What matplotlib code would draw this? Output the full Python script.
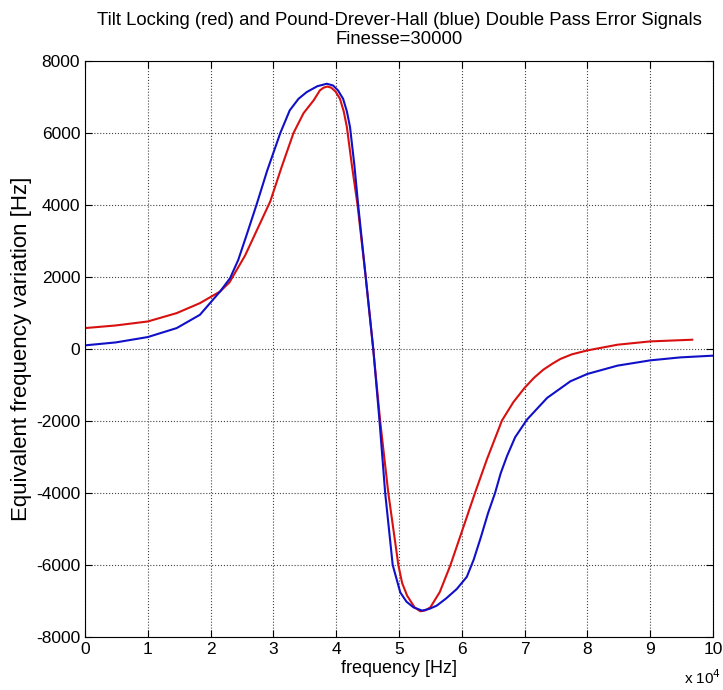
import matplotlib.pyplot as plt

plt.rcParams['font.family'] = ['Liberation Sans', 'DejaVu Sans']
plt.rcParams['axes.unicode_minus'] = False

# frequency in units of 1e4 Hz, error signal in Hz
red_x = [0, 0.49, 1.0, 1.46, 1.83, 2.15, 2.3, 2.55, 2.75, 2.95, 3.13, 3.32,
         3.48, 3.64, 3.74, 3.80, 3.86, 3.92, 3.99, 4.06, 4.12, 4.17, 4.25, 4.34,
         4.47, 4.59, 4.70, 4.83, 4.99, 5.05, 5.13, 5.25, 5.34, 5.42, 5.50, 5.65,
         5.82, 5.98, 6.21, 6.40, 6.64, 6.82, 7.0, 7.15, 7.30, 7.45, 7.57, 7.75,
         8.0, 8.48, 9.0, 9.67]
red_y = [581, 654, 765, 997, 1274, 1596, 1850, 2600, 3350, 4100, 5050, 6000,
         6550, 6906, 7183, 7260, 7290, 7260, 7150, 6950, 6600, 6166, 5100, 4000,
         2000, 0, -2000, -4000, -6000, -6500, -6853, -7180, -7285, -7260, -7175,
         -6750, -6000, -5180, -4000, -3066, -1986, -1480, -1080, -800, -573,
         -400, -277, -150, -39, 119, 211, 258]

blue_x = [0, 0.49, 1.0, 1.46, 1.83, 2.15, 2.31, 2.44, 2.57, 2.73, 2.9, 3.0,
          3.11, 3.26, 3.40, 3.53, 3.70, 3.85, 3.95, 4.03, 4.11, 4.17, 4.22,
          4.29, 4.35, 4.47, 4.59, 4.69, 4.78, 4.90, 5.02, 5.12, 5.23, 5.37, 5.48,
          5.60, 5.75, 5.92, 6.08, 6.19, 6.30, 6.42, 6.53, 6.62, 6.72, 6.85, 7.04,
          7.36, 7.73, 8.0, 8.48, 9.0, 9.48, 10.0]
blue_y = [101, 183, 332, 581, 950, 1596, 1967, 2474, 3150, 4000, 4950, 5450,
          6000, 6629, 6950, 7136, 7300, 7368, 7320, 7180, 6950, 6600, 6166,
          5100, 4000, 2000, 0, -2000, -4000, -6000, -6759, -7020, -7175, -7268,
          -7220, -7130, -6930, -6667, -6330, -5850, -5250, -4550, -4000, -3450,
          -2975, -2450, -1958, -1357, -897, -693, -462, -316, -233, -185]

x_ticks = list(range(0, 11))
y_ticks = list(range(-8000, 8001, 2000))

fig = plt.figure(figsize=(7.23, 6.9), dpi=100)
ax = fig.add_axes([0.1176, 0.0768, 0.8685, 0.8348])

ax.plot(red_x, red_y, color='#d81010', lw=1.5)
ax.plot(blue_x, blue_y, color='#1010c8', lw=1.5)

ax.set_xlim(0, 10)
ax.set_ylim(-8000, 8000)
ax.set_xticks(x_ticks)
ax.set_yticks(y_ticks)
ax.tick_params(direction='in', top=True, right=True, labelsize=12.5, length=5)
ax.grid(True, linestyle=':', color='#444444', linewidth=0.8)

ax.set_title('Tilt Locking (red) and Pound-Drever-Hall (blue) Double Pass Error Signals\nFinesse=30000',
             fontsize=13.3, pad=12, linespacing=1.15)
ax.set_xlabel('frequency [Hz]', fontsize=13, labelpad=2)
ax.set_ylabel('Equivalent frequency variation [Hz]', fontsize=16, labelpad=3)
fig.text(0.997, 0.004, r'x 10$^4$', ha='right', va='bottom', fontsize=11)

fig.savefig('out.png', dpi=100)
